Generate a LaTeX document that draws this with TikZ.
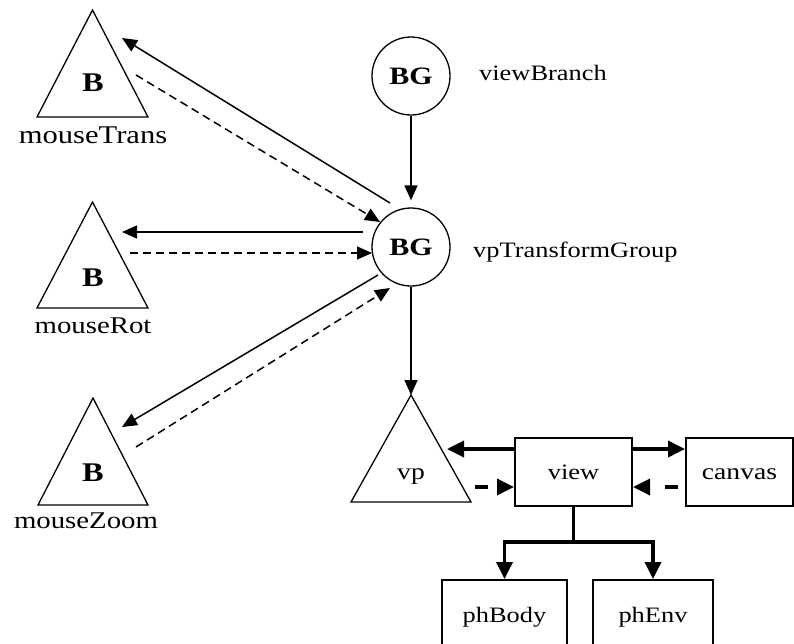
\documentclass[tikz,border=0pt]{standalone}
\usepackage{fontspec}
\setmainfont{Liberation Serif}[FakeStretch=1.2]
\usetikzlibrary{arrows.meta}

\tikzset{
  outline/.style={line width=1.3pt, line join=miter},
  conn/.style={line width=1.5pt, -{Triangle[length=15pt,width=13pt]}},
  dconn/.style={conn, dash pattern=on 8pt off 5pt},
  heavy/.style={line width=3.5pt, -{Triangle[length=17pt,width=16pt]}},
  dheavy/.style={heavy, dash pattern=on 13pt off 20pt},
  boxnode/.style={draw, line width=2pt, inner sep=0pt, text height=15pt, text depth=0pt,
                  font=\fontsize{22}{26}\selectfont},
  bgnode/.style={circle, draw, line width=1.3pt, minimum size=78pt, inner sep=0pt,
                 font=\fontsize{25}{28}\selectfont\bfseries},
  bmark/.style={font=\fontsize{27}{30}\selectfont\bfseries},
  trilabel/.style={anchor=base, inner sep=0pt, font=\fontsize{24}{28}\selectfont},
  sidelabel/.style={anchor=base west, inner sep=0pt, font=\fontsize{22}{26}\selectfont}
}

\begin{document}
\begin{tikzpicture}[x=1pt,y=-1pt]
\useasboundingbox (0,0) rectangle (794,643);
\clip (0,0) rectangle (794,643);

% behavior triangles on the left
\draw[outline] (92.5,10) -- (37,117) -- (148,117) -- cycle;
\node[bmark] (bTrans) at (93,83) {B};
\node[trilabel, font=\fontsize{25.5}{28}\selectfont] (lTrans) at (93,143) {mouseTrans};

\draw[outline] (92.5,202) -- (37,308) -- (148,308) -- cycle;
\node[bmark] (bRot) at (93,278) {B};
\node[trilabel] (lRot) at (93,333) {mouseRot};

\draw[outline] (93,398) -- (38,505) -- (148,505) -- cycle;
\node[bmark] (bZoom) at (93,473) {B};
\node[trilabel] (lZoom) at (86,528) {mouseZoom};

% branch groups
\node[bgnode] (vb) at (411,76) {BG};
\node[sidelabel] (lvb) at (479,80) {viewBranch};
\node[bgnode] (vt) at (411,247) {BG};
\node[sidelabel] (lvt) at (473,257) {vpTransformGroup};

% view platform triangle
\draw[outline] (411,395) -- (351,502) -- (471,502) -- cycle;
\coordinate (vpTop) at (411,395);
\node[anchor=base, inner sep=0pt, font=\fontsize{23}{26}\selectfont] (vp) at (411,479) {vp};

% view objects
\node[boxnode, minimum width=117pt, minimum height=68pt] (view) at (573.5,472) {view};
\node[boxnode, minimum width=107pt, minimum height=68pt, font=\fontsize{23}{26}\selectfont] (canvas) at (739.5,472) {canvas};
\node[boxnode, minimum width=125pt, minimum height=84pt, text depth=15pt] (phBody) at (504.5,622) {phBody};
\node[boxnode, minimum width=120pt, minimum height=84pt, text depth=15pt] (phEnv) at (653,622) {phEnv};

% connector end points near the triangles
\coordinate (tS1) at (390,203);  \coordinate (tE1) at (122,38);
\coordinate (tS2) at (136,75);   \coordinate (tE2) at (380,222);
\coordinate (rS1) at (363,232);  \coordinate (rE1) at (122,232);
\coordinate (rS2) at (130,253);  \coordinate (rE2) at (372,253);
\coordinate (zS1) at (378,275);  \coordinate (zE1) at (122,427);
\coordinate (zS2) at (136,447);  \coordinate (zE2) at (390,288);
\coordinate (vpOut) at (447,449);
\coordinate (vpIn) at (475,487);
\coordinate (cvIn) at (678,487);
\coordinate (split) at (573.5,542);

% scene graph links
\draw[conn, shorten >=7pt] (vb) -- (vt);
\draw[conn] (vt) -- (vpTop);
\draw[conn] (tS1) -- (tE1);
\draw[dconn] (tS2) -- (tE2);
\draw[conn] (rS1) -- (rE1);
\draw[dconn] (rS2) -- (rE2);
\draw[conn] (zS1) -- (zE1);
\draw[dconn] (zS2) -- (zE2);

% view object links
\draw[heavy] ([yshift=23pt]view.west) -- (vpOut);
\draw[dheavy] (vpIn) -- ([yshift=-15pt]view.west);
\draw[heavy] ([yshift=23pt]view.east) -- ([yshift=23pt]canvas.west);
\draw[dheavy] (cvIn) -- ([yshift=-15pt]view.east);
\draw[line width=3.5pt] (view.south) -- (split);
\draw[heavy] (split) -| (phBody.north);
\draw[heavy] (split) -| (phEnv.north);
\end{tikzpicture}
\end{document}
